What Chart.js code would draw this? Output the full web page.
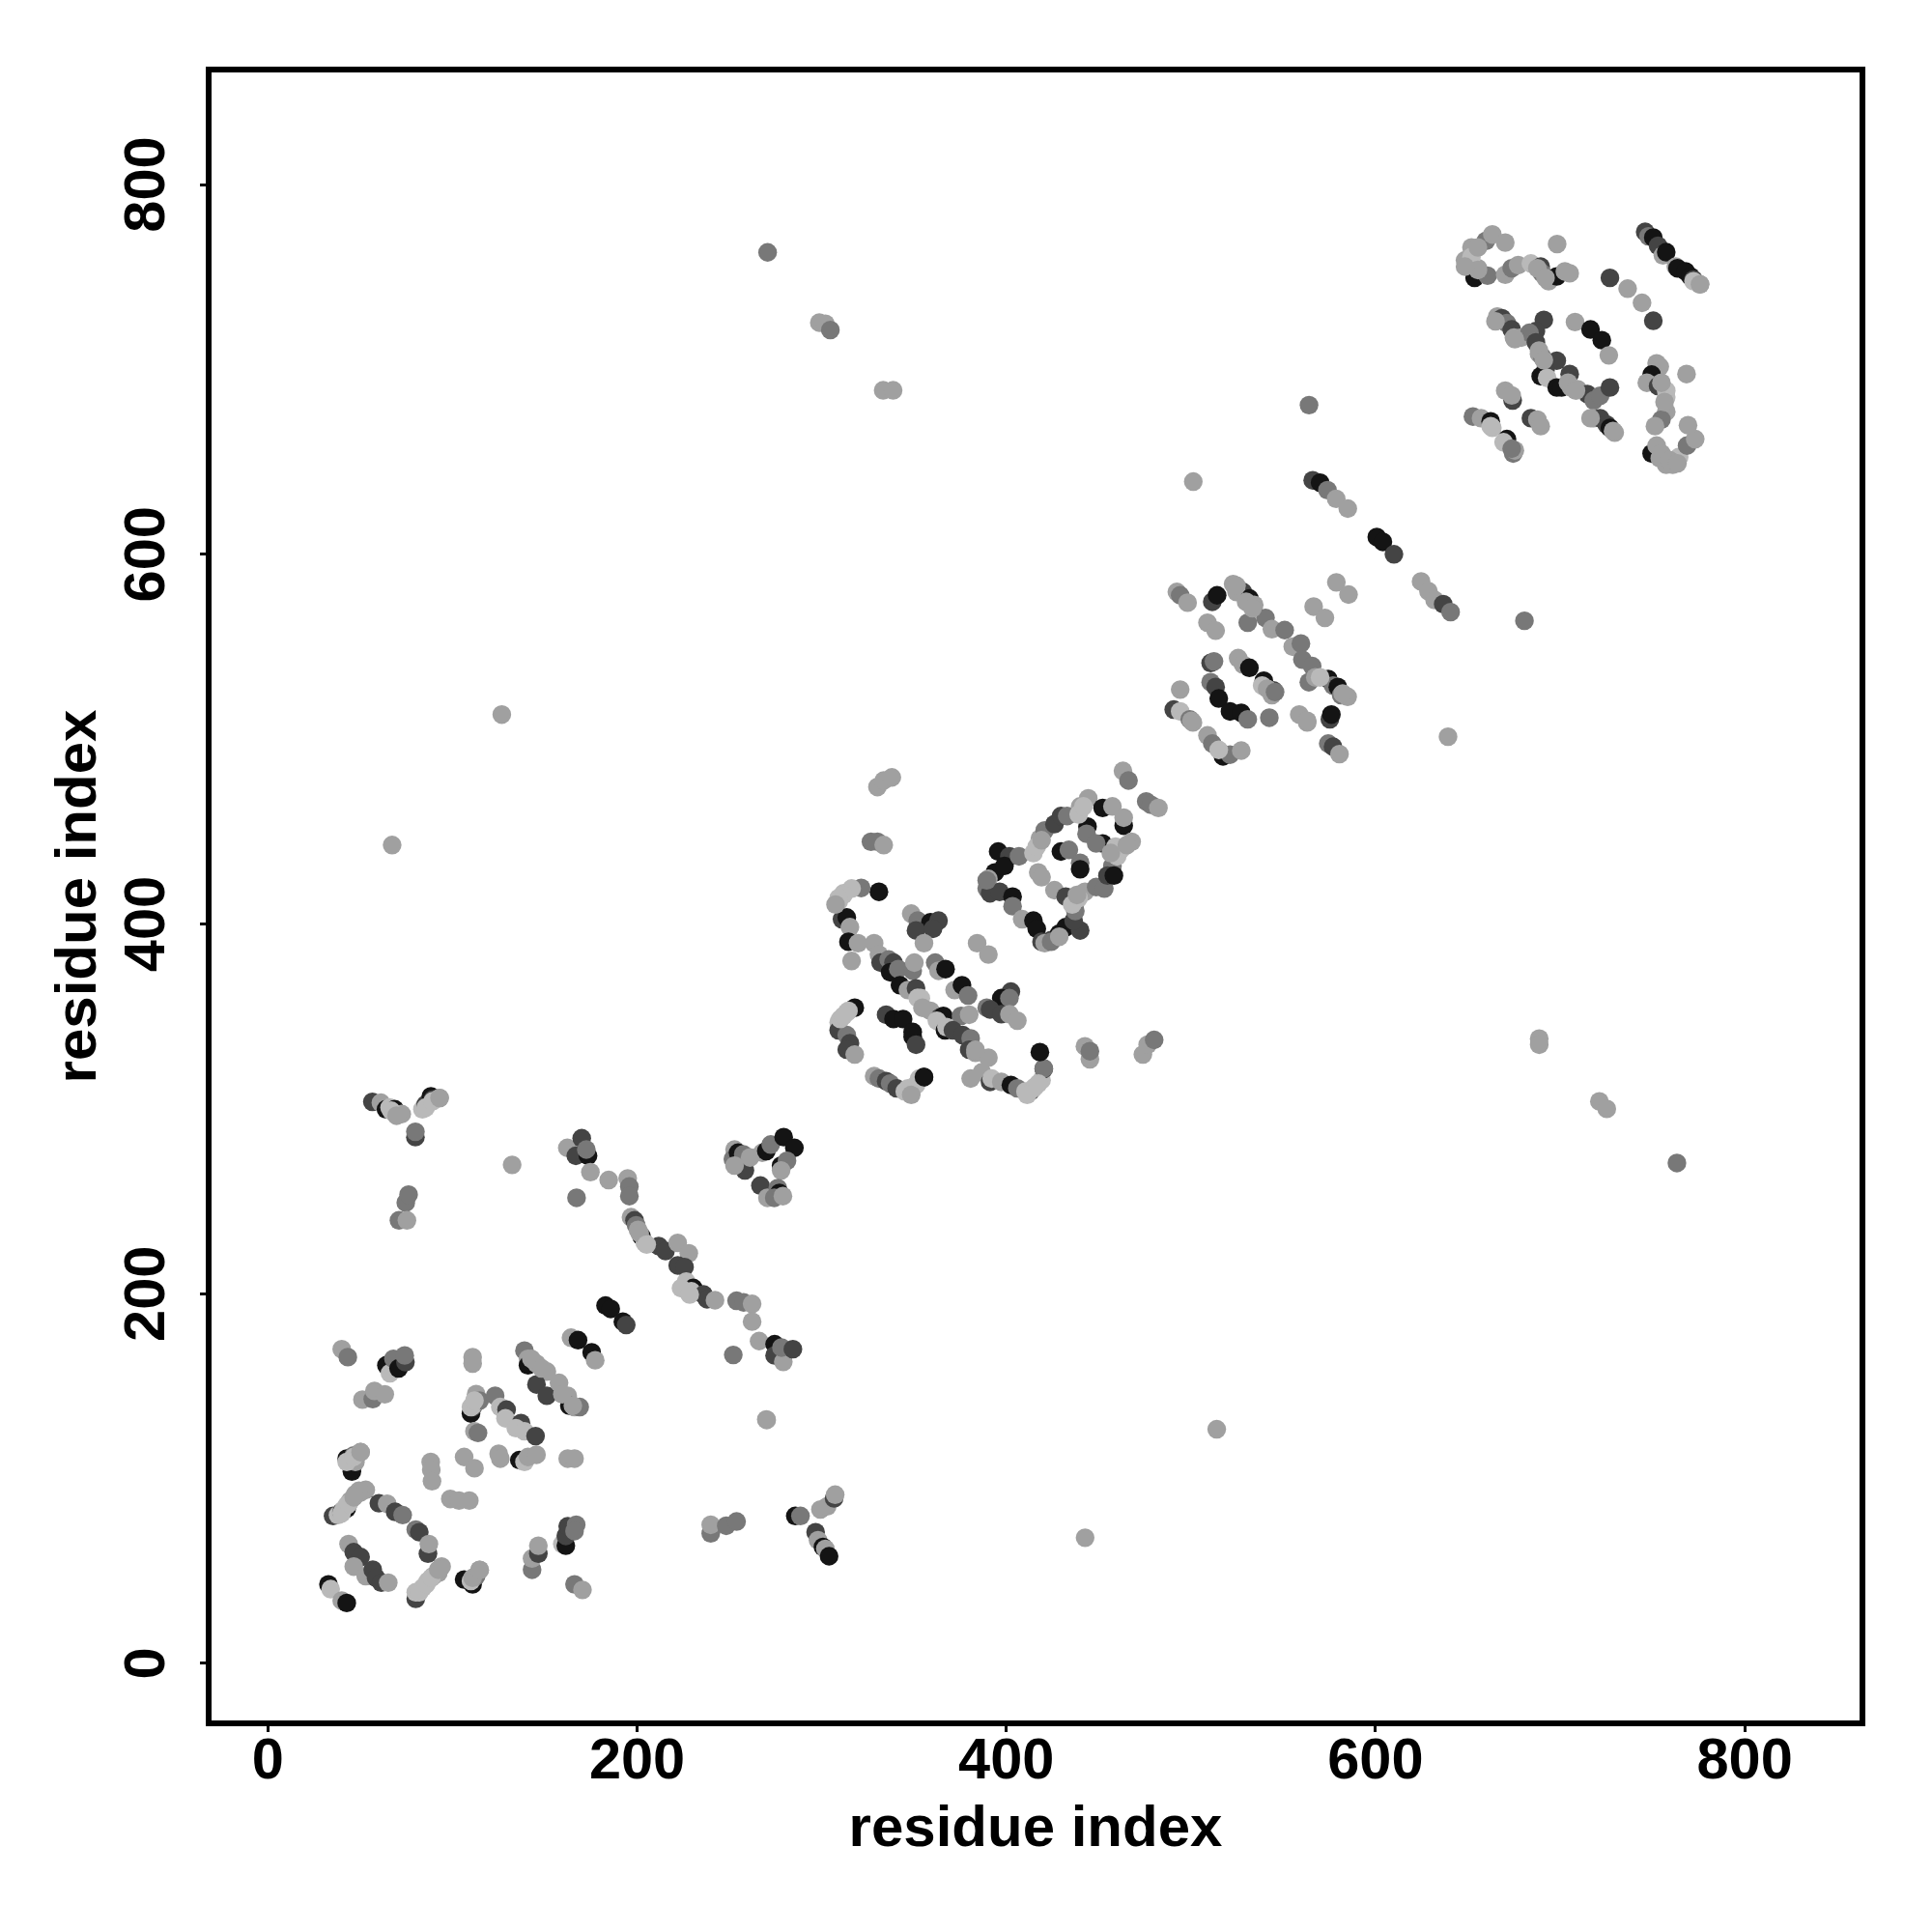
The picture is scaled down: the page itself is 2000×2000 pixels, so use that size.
<!DOCTYPE html>
<html>
<head>
<meta charset="utf-8">
<script src="https://cdn.jsdelivr.net/npm/chart.js@4"></script>
<style>
html, body { margin: 0; padding: 0; background: #fff; }
canvas { display: block; }
</style>
</head>
<body>
<canvas id="contact-map" width="2000" height="2000"></canvas>
<script>
var K = 20, D = 68, M = 120, L = 160, P = 185
var tickValues = [0, 200, 400, 600, 800]
var axisTitle = "residue index"

// one line per patch, later points sit on top
var residueX = [
  32.8,34,40,42.7,
  35.3,38,39.9,40.9,42.7,42.7,44.6,47.4,50.2,53,
  60.1,64.6,68.9,73,80.1,82,86.7,87.2,
  43.7,46.5,50.2,46.5,53,56.8,58.6,61.4,65.2,
  80.1,80.1,83.9,86.7,89.5,92.3,94.1,
  106.3,110.9,110,112.8,114.7,
  166.1,170.4,
  143.1,143.1,146.5,146.5,
  159.5,161.4,161.4,162.4,167,166.1,
  239.9,239.9,248.3,253.9,
  285.7,288.5,
  296.7,298,300.7,302,304,299.3,303,306.7,307.3,
  42.7,44.6,45.5,46.5,47.4,50.2,
  88.2,88.5,88.9,
  98.8,103.5,109.1,
  106.3,111.9,
  125,125.9,
  136.2,139,140.9,145.5,
  162.4,166.1,
  110,111,111,112.8,114.7,111.9,113.8,
  123.1,125.9,129.3,128.7,137.1,134.3,139,145,
  40,43.3,
  64.2,66.1,68,70.8,74.5,74.1,
  51.2,56.8,57.7,63.3,
  110.9,110.9,
  139,140.9,140.9,145.5,151.1,145.5,151.1,157.7,162.4,163.3,166.1,168.9,
  164.2,168,175.4,177.3,
  182.9,185.7,192.3,194.1,
  253.9,257.7,262.3,262.3,266.1,252.1,
  274.5,279.2,274.5,279.2,278.2,284.4,
  270.2,
  56.6,61.2,64,65.9,68.7,72.5,
  83.7,85.5,88.3,89.3,93,
  79.9,79.9,
  132.3,
  74.7,76.2,71,75.3,
  162.2,166.8,170,173.4,172.5,
  174.7,184.6,194.9,195.8,195.8,167.2,
  196.7,198.6,199.5,200.5,202.4,204.2,211.7,215.4,222,228,222,225.7,226.6,230.4,229.4,236,237.9,242.2,
  252.8,251.9,254.7,257.5,258.4,261.2,252.8,
  267.8,270,272.4,279.4,285.2,278,281.2,278,
  266.8,270.6,276.2,277.1,274.3,279,
  330.2,333.6,338,
  326.7,330.2,333.6,
  331,321.4,316.2,311.8,309.2,311,313.6,315.3,314.5,319.7,316.2,328.4,
  331,331.9,336.3,338.9,337.1,341.5,349.3,350.2,342.4,346.7,351.1,352,353.7,
  348.5,352,358.9,363.3,351.1,360.3,355.4,
  384.2,390.3,
  361.5,363.3,367.1,372,376,379.3,
  402.5,397.3,401.7,389.4,391.2,397.3,401.7,406,
  317.9,313.6,309.2,309.2,313.6,315.3,313.6,317.9,
  334.9,338.9,344.1,349.3,349.3,351.1,
  328.4,331,334.9,337.1,340.6,345,347.6,351.1,355.4,
  358.9,364.2,365.9,362.4,366.8,367.6,375.5,379.9,371.1,376.4,380.7,379.9,383.3,390.3,380.7,386.8,391.2,392.1,397.3,402.5,406,413,410.4,414.7,419.1,420.3,420.3,418.2,
  442.6,445.3,445.3,
  474,476.6,480.1,
  395.6,393.8,390.3,389.4,391.2,396.4,403.4,403.4,408.6,414.7,416.5,419.1,424.3,428.7,432.2,440,436.5,
  401.7,399,406.9,414.7,417.3,418.2,420.8,426.1,429.6,433,440,444.4,
  429.6,433.9,440,440,
  426.1,432.2,437.4,442.6,448.7,453.1,437.4,
  452.2,457.5,444,443.5,452.2,448.7,463.6,463.6,
  459.2,462.7,467.9,457.5,460.1,454.8,458.3,
  463.2,466.2,475.8,478.4,482.4,
  67.3,126.7,270.7,298.7,302,304.7,333.3,338.7,501.3,564,680.7,639.3,514,442.7,270,763.3,721.3,725.3,688.7,688.7,
  492.4,494.2,498.2,
  511.6,514.2,
  509,513.4,
  522.9,528.2,524.7,531.7,534.3,530.8,540.4,543.9,550.8,
  555.2,559.6,560.4,565.7,
  566.5,572.6,578.8,585.4,
  563.9,567.4,574.4,577,579.6,581.4,584.9,
  575.3,576.1,
  558.7,563,
  574.4,577,580.5,
  510.7,512.5,
  525.6,528.2,531.7,539.5,538.6,544.7,543.9,
  510.7,513.4,515.1,521.2,527.3,530.8,
  542.5,
  494.2,490.7,494.2,499.4,501.1,
  509,511.6,516.8,517.4,521.2,527.3,
  624.7,628.7,632,636.7,640.7,
  600.7,604,610,
  566,570,574,578.7,585,
  648.5,652,659.8,663.3,670.3,698.4,
  655.5,653.7,660.7,
  670.3,673.8,677.3,684.2,689.5,690.3,693.8,698.2,702.6,705.2,
  727,736.6,744.4,750.5,
  746.1,747.9,750.5,753.1,755.7,757.5,762.7,763.6,768,770.6,772.3,775.8,
  666,668.5,671.2,673.8,675,679,
  691.2,686.9,683.4,686.9,688.6,690.3,698.2,692.1,689.5,693,705.2,
  698.2,700.8,704.3,709.5,714.8,718.2,721.7,727,
  718.2,721.7,725.2,727,729.6,
  708.1,716.5,722.6,726.4,
  674.3,670.3,673.8,
  684.2,687.7,689.5,
  652.8,657.2,662.4,663.3,671.2,669.4,674.6,
  752.3,754,749.6,747,753.1,757.5,757.5,754.9,751.4,768.5,
  749.6,752.3,754,757.5,761,764.5,768.8,773.2,769.3,
  // thick parts of the chains, light points over the dark ones
  416.5,419.1,439.2,441.8,439.2,435.7,438.3,461.8,465.3,456.6,389.4,420.8,424.3,428.7,419.1,
  311.8,309.2,307.5,314.5,310.1,311.8,346.7,349.3,348.5,352.8,355.4,415.6,417.4,411.3,354.6,383.3,
  524.7,529.9,533.4,570,582.2,541.3,545.6,500.3,515.1,563,
  650.2,652,655.5,655.5,648.5,687.7,692.1,757.5,754.9,756.6,754.9,759.2,763.6,772.3,775.8,
  665,675.5,688.6,691.2,706,708.6,716.5,728.7,675.5,673.8,662.4,
  39.9,43.7,49.3,46.5,82,85.7,88.5,92.3,110.9,114.7,42.7,46.5,50.2,110,111.9,142.7,148.3,159.5,165.2,
  201.4,205.2,223.8,228.5,66.8,69.7,85.5,89.3,93
]
var residueY = [
  42.8,40.2,34,32.7,
  79.8,80.3,82,83,83.8,85.5,88,91.6,92.5,93.9,
  86.7,86.4,82,80.3,72.4,71,59.4,64.6,
  64.6,60.2,57.6,52.4,47.2,50.7,46.3,43.7,43.7,
  35,38.5,41,44.6,47.2,48.9,52.4,
  45.4,42.8,44.6,47.2,50.6,
  42.8,39.8,
  50.7,56.8,59.4,63.7,
  64.6,63.7,69,74.2,75,71.6,
  70.4,75,74.5,76.8,
  79.8,79.8,
  71,66.7,63,62,58,83.3,85,89.3,91.3,
  110.8,107.3,103.8,112.5,109,114.3,
  109,104.7,98.6,
  89,88.1,88.1,
  111.7,105.6,
  113.4,110.8,
  110,109,111.7,112.9,
  110.8,110.8,
  135.2,138.7,139.5,145.7,142.2,125.6,124.7,
  144.8,138.7,137.3,132.6,130,127.3,125.6,123,
  170,165.7,
  161.3,157,164.8,159.6,163,166.6,
  142.7,143,147.4,145.6,
  165.7,162.2,
  169.2,164.8,161.3,162.2,157.9,150.9,144.8,151.8,144.8,139.5,138.7,138.7,
  176.2,174.9,168.3,164,
  193.6,191.8,184.9,183.1,
  196.2,195.3,194.5,184.9,174.4,166.9,
  172.7,166.6,166.6,163.1,170.9,170,
  131.7,
  303.8,303.3,299.8,300.7,299.8,297.2,
  299.8,302.4,306.8,305,305.9,
  284.7,287.6,
  269.7,
  249.3,253.6,239.7,239.7,
  278.9,274.6,284.1,274.6,278,
  265.8,261.5,262.4,258,252.8,251.9,
  241.4,239.7,237,234.5,231,227.5,225.8,223.1,227.5,221.9,215.3,214.4,206.6,203.1,201.3,199.6,197,196.5,
  278,272.8,276.3,275.4,266.7,273.7,269.3,
  276.3,277.2,280.7,284.7,278.9,269.3,271.9,266.7,
  258.5,251.9,257.1,254.5,251.9,252.8,
  474.1,477.6,479.3,
  444.5,444.5,442.7,
  417.4,419.5,419.2,416.6,412.2,402.6,403.5,398.3,390.4,389.6,380,389.6,
  383.5,379.1,380.8,379.1,373.9,375.6,374.7,379.1,366.9,364.3,365.2,360,359.9,
  405.6,401.8,400.9,401.8,396.5,397.4,389.6,
  389.6,383.5,
  379.1,374.7,375.6,364.3,366.9,361.3,
  363.4,359.9,359.9,354.7,353.8,351.2,351.2,347.7,
  354.7,352.1,346.9,342.5,339.9,335.5,332,329.4,
  350.9,348.6,348.6,341.6,339,334.7,
  317.7,316.4,315,313.7,311.1,309.4,308.5,312.9,317.2,
  353,349.5,350.3,347.7,342.5,344.2,350.3,350.9,342.5,339.9,338.1,332,330.3,327.7,316.4,319.8,314.6,316.4,314.6,312.9,311.1,309.4,309.4,311.1,315.5,321.6,321.9,330.7,
  333.8,326.8,331.2,
  329.4,334.7,337.3,
  439.2,427.9,424.4,419.2,416.6,417.4,414.8,409.6,402.6,401.8,397.4,390.4,391.3,394.8,398.3,396.5,401.8,
  436.6,431.4,436.6,438.4,427.9,446.2,450.6,454,458.4,458.4,463.6,468,
  439.2,440.1,433.1,429.6,
  418.3,414.8,411.4,417.4,420,419.2,407,
  462.8,463.6,452.7,448.8,443.6,443.6,453.2,457.5,
  441.9,441,444.5,431.4,436.6,426.2,426.2,
  482.8,477.6,466.3,464.5,462.8,
  442.7,513.3,763.3,725.3,724.7,721.3,688.7,688.7,639.3,680.7,564,501.3,126.7,68,132,270.7,304,300,338,334.7,
  579.6,577.8,573.8,
  574.3,577.8,
  563,558.7,
  583.9,579.6,579.6,576.1,572.6,563,565.6,559.5,559,
  550,551.7,543,539.5,
  571.7,565.6,584.8,578.2,
  530.8,533.4,532.5,529,528.2,523.8,522.9,
  510.7,513.3,
  513.3,509,
  497.6,495.9,491.9,
  541.2,542.1,
  543.8,540.4,538.6,531.6,529,526.4,523.8,
  530.8,528.2,522,515,514.2,510.7,
  511.6,
  526.8,516,515,510.7,509,
  502,497.6,492.4,490.7,491.6,493.8,
  585.3,580,575.3,573,568.7,
  609.3,606.7,600,
  640,638.7,634.7,630,624.7,
  759,766,769.5,773,768.6,767.8,
  754.7,749.5,750.7,
  751.2,754.7,756.4,757.3,755.6,752,747.7,750.3,753,752,
  749.5,743.7,736,726.3,
  774.4,772,771.3,766.9,761.7,763.4,755.6,754.7,753,750.3,748.6,746,
  728.6,727.7,725,721.6,717.2,717.2,
  726.8,720.7,719.8,714.6,708.5,706.8,704.7,699.8,696.3,695.4,697.5,
  690.2,690.2,692.8,689.3,686.7,683.2,685.8,690.2,
  673.6,673.6,670.2,668.4,665.8,
  725.6,721.6,715.8,707.6,
  683.2,688.5,685.9,
  673.6,672.8,669.3,
  674.5,673.6,671.9,668.4,662.3,660.6,654.5,
  703.3,701.5,697.2,692.8,691,685,677.1,672.8,669.3,697.5,
  654.5,658.8,651.9,648.4,648.4,652.7,658.8,662.3,669.8,
  // thick parts of the chains, light points over the dark ones
  441.9,445.3,459.3,463.6,414,410.5,415.7,440.1,442.7,438.4,423.6,389.6,390.4,393.1,425.3,
  415.7,414,410.5,353,348.6,350.3,311.1,311.1,307.6,316.4,317.2,312,313.7,307.6,354.7,332,
  583,574.3,570.8,533.4,524.7,527.3,525.5,509.9,494.2,509.9,
  757.3,760.8,766,753.8,755.6,754.7,749.5,688.5,692.8,682.4,654.5,651,649.2,747.7,746,
  726,716.4,710.2,705,690.2,688.5,673.6,666.7,656.2,657.1,669.3,
  81.2,86.4,93.4,89.9,38.5,42.8,46.3,50.7,46.3,50.6,109,111.7,114.3,138.7,142.2,164.8,159.6,145.6,139.5,
  232.7,226.6,203,199.6,299,296.3,300.7,304.2,305.9
]
var residueGrey = [
  K,P,L,K,
  D,P,D,P,K,P,L,L,L,L,
  D,L,D,M,M,D,D,L,
  L,D,D,L,L,D,D,D,L,
  D,P,P,P,L,L,L,
  K,K,P,M,L,
  M,L,
  M,L,D,L,
  P,K,D,D,M,M,
  M,L,M,M,
  K,M,
  D,L,K,L,K,L,L,D,L,
  K,P,K,M,L,L,
  L,L,L,
  L,L,L,
  L,L,
  L,L,
  K,P,L,L,
  L,L,
  K,D,P,L,M,L,M,
  M,P,D,P,D,P,P,D,
  L,M,
  K,P,M,K,D,M,
  L,M,L,L,
  L,L,
  M,L,K,L,L,D,D,L,L,K,L,M,
  L,K,K,L,
  K,K,K,D,
  M,M,L,L,L,M,
  K,K,D,L,M,D,
  L,
  D,L,K,P,K,L,
  P,D,K,D,L,
  D,M,
  L,
  M,M,M,L,
  L,D,D,K,M,
  L,L,L,M,M,M,
  L,D,M,L,K,P,D,D,L,L,D,D,P,K,P,D,D,L,
  L,M,K,M,D,L,L,
  L,K,M,K,K,K,M,L,
  D,L,M,K,M,L,
  L,L,L,
  M,M,L,
  K,M,P,P,P,D,K,L,K,L,L,L,
  L,D,M,D,K,M,M,L,K,L,D,P,P,
  L,M,K,D,D,D,L,
  L,L,
  M,L,K,L,K,M,
  D,K,M,M,D,D,L,L,
  K,P,P,D,M,D,D,L,
  D,K,K,K,K,D,
  L,M,D,M,D,P,P,P,K,
  L,D,K,P,K,P,M,L,D,D,M,D,L,L,L,L,D,P,L,K,M,D,P,P,P,D,M,K,
  L,L,M,
  L,L,M,
  K,K,L,M,D,D,K,M,L,K,K,D,D,K,K,D,D,
  D,K,M,P,L,L,M,D,D,M,L,L,
  K,M,M,K,
  L,D,L,L,M,M,M,
  K,L,K,M,K,M,K,L,
  P,P,L,M,P,D,K,
  L,M,M,M,L,
  L,L,M,L,L,M,L,L,L,M,M,L,L,L,L,M,L,L,L,L,
  L,M,L,
  D,K,
  L,L,
  L,D,L,K,L,M,M,L,M,
  L,M,M,M,
  L,L,L,L,
  M,L,K,M,K,M,L,
  D,K,
  L,L,
  M,D,L,
  D,M,
  L,L,K,K,P,D,L,
  M,D,K,K,K,M,
  M,
  L,D,P,M,L,
  L,M,L,K,M,L,
  L,L,L,D,M,
  K,K,D,
  D,K,M,L,L,
  L,L,M,L,L,L,
  L,K,M,
  L,M,L,P,D,M,L,K,L,L,
  D,L,L,D,
  D,M,K,D,L,K,L,K,K,K,D,L,
  L,D,M,D,L,L,
  D,D,M,D,L,M,D,D,K,P,D,
  K,K,L,L,D,M,M,D,
  L,D,D,K,L,
  L,K,K,L,
  D,L,L,
  D,L,L,
  M,L,K,P,K,P,M,
  L,L,K,L,D,P,L,M,L,L,
  K,L,L,L,L,P,M,L,L,
  // thick parts of the chains, light points over the dark ones
  P,L,P,P,P,P,L,P,L,L,M,L,M,L,L,
  P,P,L,P,P,P,P,P,L,P,K,P,P,P,L,L,
  L,L,L,P,L,L,M,L,P,L,
  L,P,L,L,L,L,L,P,L,L,L,L,L,P,L,
  L,L,L,L,L,L,L,L,L,M,P,
  P,P,L,L,P,P,P,L,L,L,P,P,L,P,P,L,L,L,L,
  L,P,P,P,P,L,P,P,L
]

function drawFrame(chart){
    var a = chart.chartArea
    var ctx = chart.ctx
    ctx.save()
    ctx.strokeStyle = "#000"
    ctx.lineWidth = 6
    ctx.strokeRect(a.left, a.top, a.right - a.left, a.bottom - a.top)
    ctx.restore()
}

var points = residueX.map(function(x, i){ return {x: x, y: residueY[i]} })
var colors = residueGrey.map(function(g){ return "rgb(" + g + "," + g + "," + g + ")" })

new Chart(document.getElementById("contact-map"), {
    type: "scatter",
    data: {
        datasets: [{
            data: points,
            backgroundColor: colors,
            borderWidth: 0,
            pointRadius: 9.7,
            pointHoverRadius: 9.7
        }]
    },
    options: {
        responsive: false,
        animation: false,
        layout: {padding: {top: 72, right: 72}},
        plugins: {legend: {display: false}, tooltip: {enabled: false}},
        scales: {
            x: {
                type: "linear",
                min: -32.1,
                max: 863.8,
                afterFit: function(s){ s.height = 216 },
                afterBuildTicks: function(s){ s.ticks = tickValues.map(function(v){ return {value: v} }) },
                grid: {drawOnChartArea: false, tickLength: 9, tickWidth: 3, tickColor: "#000"},
                border: {display: false},
                ticks: {maxRotation: 0, autoSkip: false, padding: 2, color: "#000", font: {family: "Liberation Sans", weight: "bold", size: 59.5, lineHeight: 1}},
                title: {display: true, text: axisTitle, color: "#000", padding: {top: 0, bottom: 76}, font: {family: "Liberation Sans", weight: "bold", size: 60, lineHeight: 1}}
            },
            y: {
                type: "linear",
                min: -32.4,
                max: 862.2,
                afterFit: function(s){ s.width = 216 },
                afterBuildTicks: function(s){ s.ticks = tickValues.map(function(v){ return {value: v} }) },
                grid: {drawOnChartArea: false, tickLength: 9, tickWidth: 3, tickColor: "#000"},
                border: {display: false},
                ticks: {minRotation: 90, maxRotation: 90, autoSkip: false, crossAlign: "center", padding: 4, color: "#000", font: {family: "Liberation Sans", weight: "bold", size: 59.5, lineHeight: 1}},
                title: {display: true, text: axisTitle, color: "#000", padding: {top: 52, bottom: 0}, font: {family: "Liberation Sans", weight: "bold", size: 60, lineHeight: 1}}
            }
        }
    },
    plugins: [{id: "frame", afterDraw: drawFrame}]
})
</script>
</body>
</html>
